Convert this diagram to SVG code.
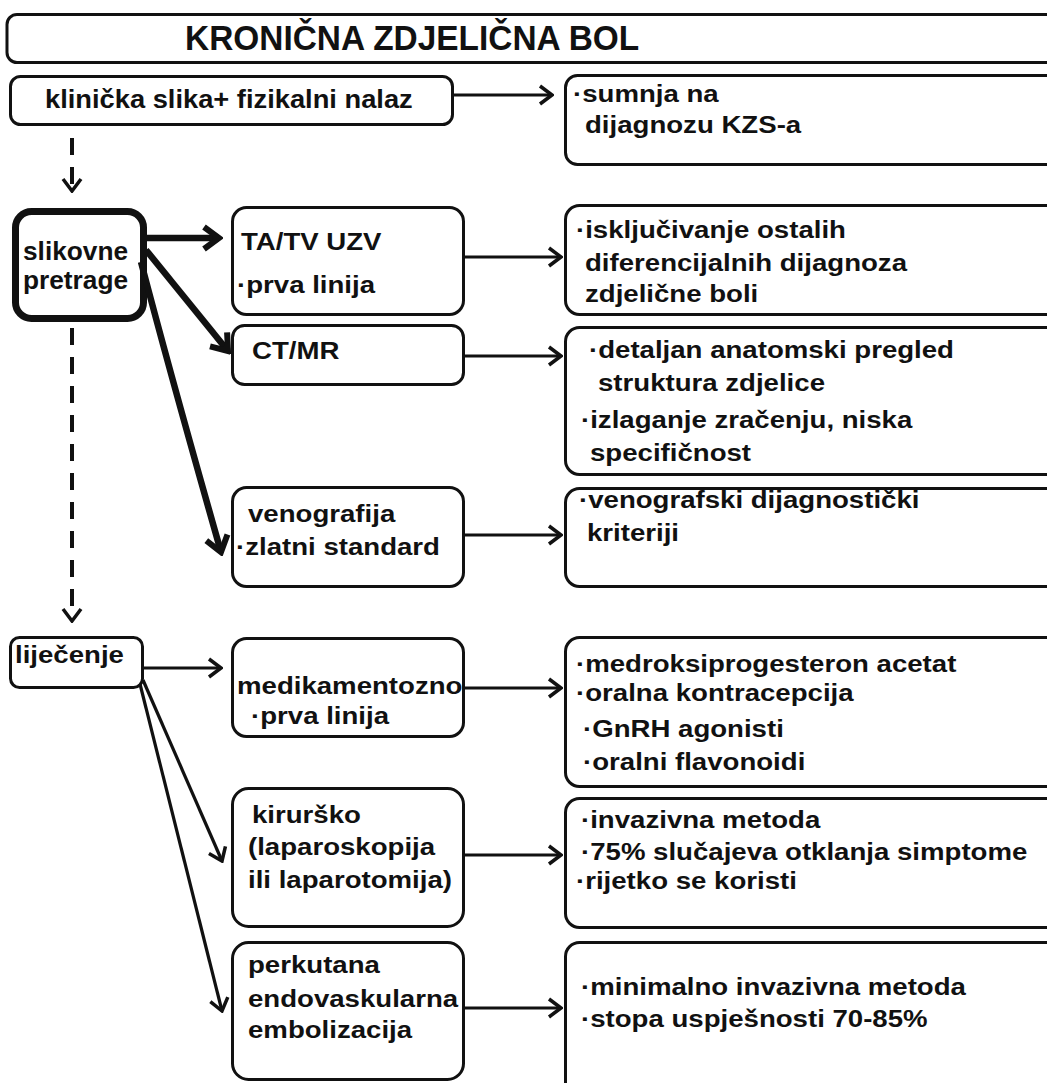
<svg xmlns="http://www.w3.org/2000/svg" width="1047" height="1083" viewBox="0 0 1047 1083">
<style>
.box{fill:#fff;stroke:#111;stroke-width:3}
.bold{fill:#fff;stroke:#111;stroke-width:7}
text{font-family:"Liberation Sans",Arial,sans-serif;font-weight:bold;fill:#111}
.t{font-size:24px}
.s{font-size:25px}
.k{font-size:26px}
.ti{font-size:35px}
.c{fill:none;stroke:#111;stroke-width:3.2}
.cb{fill:none;stroke:#111;stroke-width:6.5}
.d{fill:none;stroke:#111;stroke-width:4;stroke-dasharray:17 12}
</style>
<defs>
<marker id="ah" markerUnits="userSpaceOnUse" markerWidth="16" markerHeight="22" viewBox="0 0 16 22" refX="14" refY="11" orient="auto"><path d="M2,2 L14,11 L2,20" fill="none" stroke="#111" stroke-width="3.5"/></marker>
<marker id="ahb" markerUnits="userSpaceOnUse" markerWidth="22" markerHeight="28" viewBox="0 0 22 28" refX="18" refY="14" orient="auto"><path d="M3,3 L18,14 L3,25" fill="none" stroke="#111" stroke-width="6"/></marker>
</defs>
<rect width="1047" height="1083" fill="#fff"/>

<g id="title">
<rect class="box" x="7" y="14.5" width="1060" height="48" rx="10"/>
<text class="ti" transform="translate(185 50) scale(0.955 1)">KRONIČNA ZDJELIČNA BOL</text>
</g>

<g id="klinicka">
<rect class="box" x="10.5" y="76.5" width="442" height="48" rx="10"/>
<text class="k" transform="translate(45 108) scale(1.05 1)">klinička slika+ fizikalni nalaz</text>
</g>

<g id="sumnja">
<rect class="box" x="565.5" y="75.5" width="500" height="89" rx="12"/>
<text class="t" transform="translate(573 102) scale(1.15 1)">·sumnja na</text>
<text class="t" transform="translate(585 133) scale(1.15 1)">dijagnozu KZS-a</text>
</g>

<g id="slikovne">
<rect class="bold" x="15.5" y="211.5" width="128" height="107" rx="16"/>
<text class="s" transform="translate(23 260) scale(1.05 1)">slikovne</text>
<text class="s" transform="translate(23 289) scale(1.05 1)">pretrage</text>
</g>

<g id="tatv">
<rect class="box" x="232.5" y="207.5" width="231" height="107" rx="14"/>
<text class="t" transform="translate(241 250) scale(1.15 1)">TA/TV UZV</text>
<text class="t" transform="translate(237 293) scale(1.15 1)">·prva linija</text>
</g>

<g id="ctmr">
<rect class="box" x="232.5" y="325.5" width="231" height="59" rx="12"/>
<text class="t" transform="translate(252 359) scale(1.15 1)">CT/MR</text>
</g>

<g id="venografija">
<rect class="box" x="232.5" y="487.5" width="231" height="99" rx="14"/>
<text class="t" transform="translate(248 522) scale(1.15 1)">venografija</text>
<text class="t" transform="translate(236 555) scale(1.15 1)">·zlatni standard</text>
</g>

<g id="iskljucivanje">
<rect class="box" x="565.5" y="205.5" width="500" height="109" rx="14"/>
<text class="t" transform="translate(576 238) scale(1.15 1)">·isključivanje ostalih</text>
<text class="t" transform="translate(585 271) scale(1.15 1)">diferencijalnih dijagnoza</text>
<text class="t" transform="translate(585 302) scale(1.15 1)">zdjelične boli</text>
</g>

<g id="detaljan">
<rect class="box" x="565.5" y="327.5" width="500" height="147" rx="14"/>
<text class="t" transform="translate(589 358) scale(1.15 1)">·detaljan anatomski pregled</text>
<text class="t" transform="translate(598 391) scale(1.15 1)">struktura zdjelice</text>
<text class="t" transform="translate(581 428) scale(1.15 1)">·izlaganje zračenju, niska</text>
<text class="t" transform="translate(590 461) scale(1.15 1)">specifičnost</text>
</g>

<g id="venografski">
<rect class="box" x="565.5" y="488.5" width="500" height="98" rx="14"/>
<text class="t" transform="translate(579 508) scale(1.15 1)">·venografski dijagnostički</text>
<text class="t" transform="translate(587 541) scale(1.15 1)">kriteriji</text>
</g>

<g id="lijecenje">
<rect class="box" x="10.5" y="637.5" width="132" height="50" rx="9"/>
<text class="t" transform="translate(15 663) scale(1.15 1)">liječenje</text>
</g>

<g id="medikamentozno">
<rect x="232.5" y="638.5" width="231" height="98" rx="14" fill="#fff"/>
<text class="t" transform="translate(237 694) scale(1.15 1)">medikamentozno</text>
<text class="t" transform="translate(251 724) scale(1.15 1)">·prva linija</text>
<rect x="232.5" y="638.5" width="231" height="98" rx="14" fill="none" stroke="#111" stroke-width="3"/>
</g>

<g id="kirursko">
<rect class="box" x="232.5" y="788.5" width="231" height="138" rx="16"/>
<text class="t" transform="translate(252 823) scale(1.15 1)">kirurško</text>
<text class="t" transform="translate(248 855) scale(1.15 1)">(laparoskopija</text>
<text class="t" transform="translate(248 888) scale(1.15 1)">ili laparotomija)</text>
</g>

<g id="perkutana">
<rect class="box" x="232.5" y="942.5" width="231" height="137" rx="16"/>
<text class="t" transform="translate(248 973) scale(1.15 1)">perkutana</text>
<text class="t" transform="translate(248 1007) scale(1.15 1)">endovaskularna</text>
<text class="t" transform="translate(248 1038) scale(1.15 1)">embolizacija</text>
</g>

<g id="medroksi">
<rect class="box" x="565.5" y="637.5" width="500" height="149" rx="14"/>
<text class="t" transform="translate(576 672) scale(1.15 1)">·medroksiprogesteron acetat</text>
<text class="t" transform="translate(576 701) scale(1.15 1)">·oralna kontracepcija</text>
<text class="t" transform="translate(583 737) scale(1.15 1)">·GnRH agonisti</text>
<text class="t" transform="translate(583 770) scale(1.15 1)">·oralni flavonoidi</text>
</g>

<g id="invazivna">
<rect class="box" x="565.5" y="798.5" width="500" height="129" rx="14"/>
<text class="t" transform="translate(581 828) scale(1.15 1)">·invazivna metoda</text>
<text class="t" transform="translate(581 860) scale(1.15 1)">·75% slučajeva otklanja simptome</text>
<text class="t" transform="translate(576 889) scale(1.15 1)">·rijetko se koristi</text>
</g>

<g id="minimalno">
<rect class="box" x="565.5" y="942.5" width="500" height="160" rx="14"/>
<text class="t" transform="translate(581 995) scale(1.15 1)">·minimalno invazivna metoda</text>
<text class="t" transform="translate(581 1027) scale(1.15 1)">·stopa uspješnosti 70-85%</text>
</g>

<g id="connectors">
<path class="c" d="M453,95 L552,95" marker-end="url(#ah)"/>
<path class="d" d="M72,138 L72,191" marker-end="url(#ah)"/>
<path class="d" d="M72,328 L72,621" marker-end="url(#ah)"/>
<path class="cb" d="M147,238 L219,238" marker-end="url(#ahb)"/>
<path class="cb" d="M146,250 L228,351" marker-end="url(#ahb)"/>
<path class="cb" d="M141,262 Q172,380 221,552" marker-end="url(#ahb)"/>
<path class="c" d="M464,257 L561,257" marker-end="url(#ah)"/>
<path class="c" d="M464,356 L561,356" marker-end="url(#ah)"/>
<path class="c" d="M464,535 L561,535" marker-end="url(#ah)"/>
<path class="c" d="M143,668 L221,668" marker-end="url(#ah)"/>
<path class="c" d="M143,680 L222,861" marker-end="url(#ah)"/>
<path class="c" d="M140,684 L222,1011" marker-end="url(#ah)"/>
<path class="c" d="M464,688 L561,688" marker-end="url(#ah)"/>
<path class="c" d="M464,855 L561,855" marker-end="url(#ah)"/>
<path class="c" d="M464,1008 L561,1008" marker-end="url(#ah)"/>
</g>
</svg>
